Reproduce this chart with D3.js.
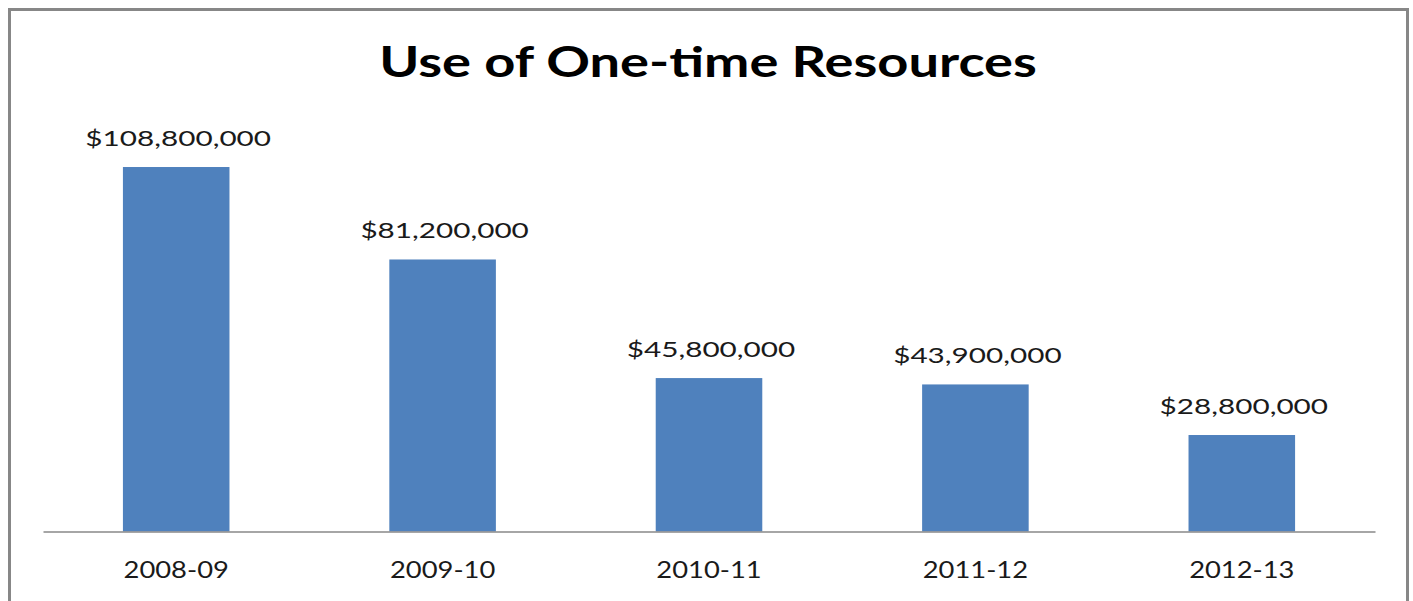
<!DOCTYPE html>
<html>
<head>
<meta charset="utf-8">
<script src="https://cdn.jsdelivr.net/npm/d3@7"></script>
<style>
  body { margin: 0; background: #fff; }
  svg { display: block; }
  text { font-family: Lato, "Open Sans", sans-serif; fill: #000; }
</style>
</head>
<body>
<div id="chart"></div>
<script>
var W = 1413, H = 601;

// data
var years = ["2008-09", "2009-10", "2010-11", "2011-12", "2012-13"];
var amounts = [108800000, 81200000, 45800000, 43900000, 28800000];
var titleText = "Use of One-time Resources";

var plot = { left: 43, right: 1375, top: 129.5, bottom: 531.5 };

var svg = d3.select("#chart").append("svg")
    .attr("width", W)
    .attr("height", H);

// chart frame
svg.append("rect")
    .attr("x", 9.5).attr("y", 9.5)
    .attr("width", 1398).attr("height", 620)
    .attr("fill", "#fff")
    .attr("stroke", "#878787")
    .attr("stroke-width", 3);

var x = d3.scaleBand()
    .domain(years)
    .range([plot.left, plot.right])
    .paddingInner(0.6)
    .paddingOuter(0.3);

var y = d3.scaleLinear()
    .domain([0, 120000000])
    .range([plot.bottom, plot.top]);

var fmt = d3.format("$,");

// the original is a bit stretched sideways, so widen the text
svg.append("text")
    .attr("transform", "translate(" + 708 + ",77) scale(1.29,1)")
    .attr("text-anchor", "middle")
    .style("font-size", "42px")
    .style("font-weight", "bold")
    .text(titleText);

var rows = years.map(function(yr, i) { return { year: yr, value: amounts[i] }; });

svg.selectAll("rect.bar")
    .data(rows)
  .enter().append("rect")
    .attr("class", "bar")
    .attr("x", function(d) { return x(d.year); })
    .attr("y", function(d) { return y(d.value); })
    .attr("width", x.bandwidth())
    .attr("height", function(d) { return y(0) - y(d.value); })
    .attr("fill", "#4f81bd");

svg.selectAll("text.val")
    .data(rows)
  .enter().append("text")
    .attr("class", "val")
    .attr("transform", function(d) {
      return "translate(" + (x(d.year) + x.bandwidth() / 2 + 2) + "," + (y(d.value) - 21) + ") scale(1.35,1)";
    })
    .attr("text-anchor", "middle")
    .style("font-size", "22px")
    .style("fill", "#1a1a1a")
    .text(function(d) { return fmt(d.value); });

// category axis
var xAxis = svg.append("g")
    .attr("transform", "translate(0," + plot.bottom + ")")
    .call(d3.axisBottom(x).tickSize(0));

xAxis.select(".domain")
    .attr("stroke", "#898989")
    .attr("stroke-width", 1.5);

xAxis.selectAll("text")
    .attr("y", 46.5)
    .attr("dy", 0)
    .attr("transform", "scale(1.14,1)")
    .style("font-size", "24px")
    .style("font-family", "Lato, 'Open Sans', sans-serif")
    .style("fill", "#1a1a1a");
</script>
</body>
</html>
